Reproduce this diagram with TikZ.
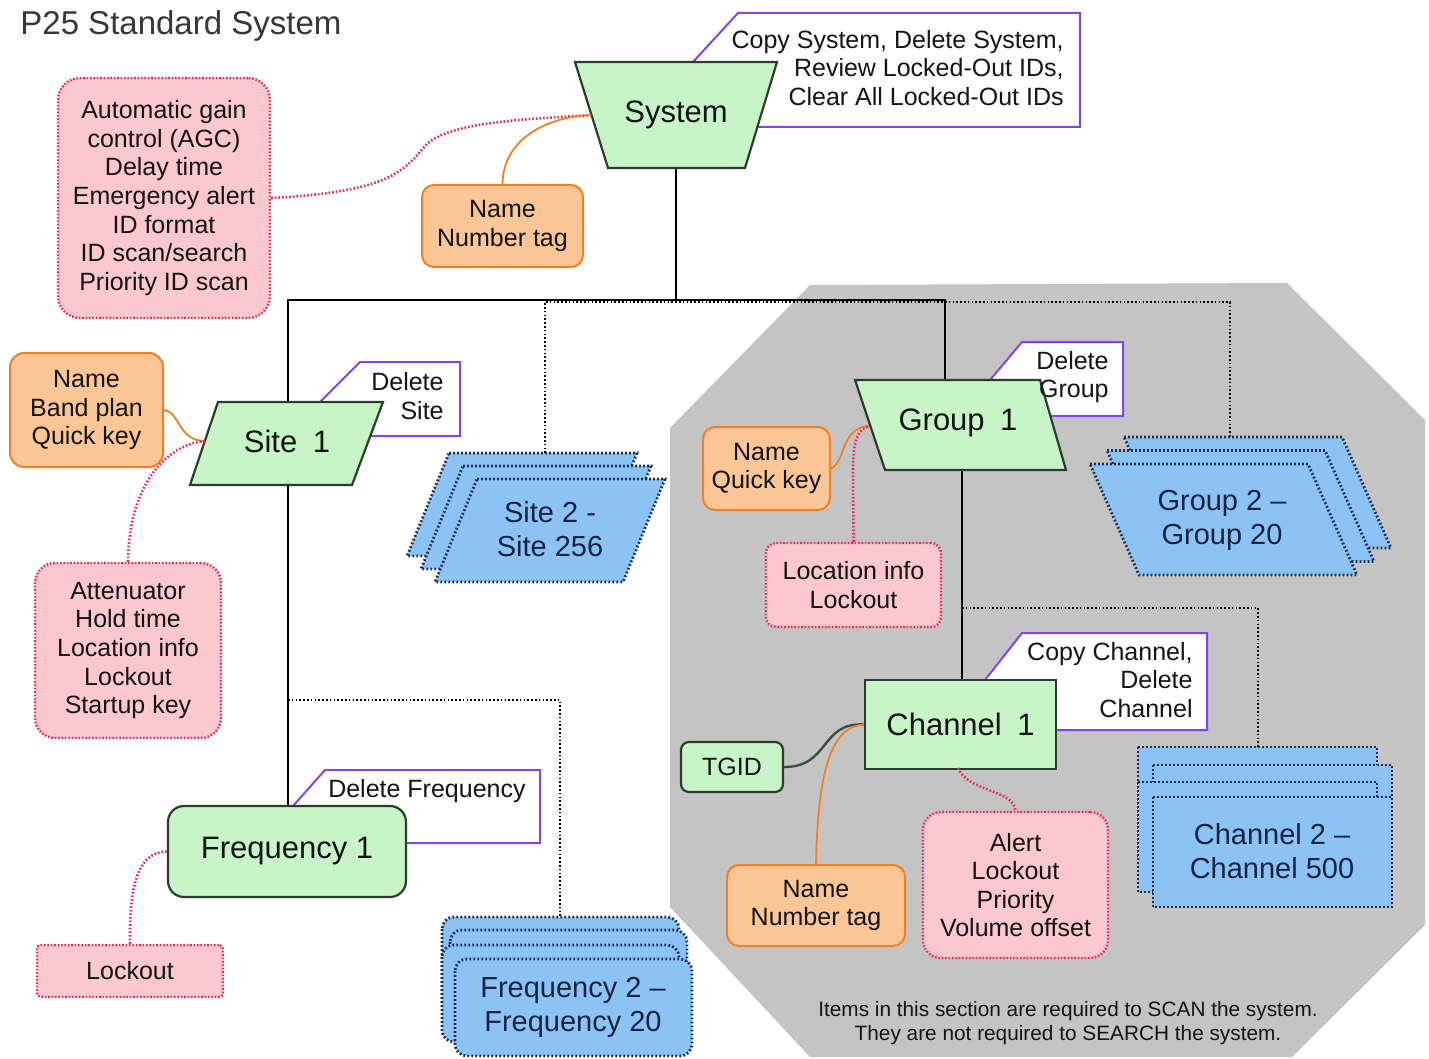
\documentclass[tikz,border=0pt]{standalone}
\usepackage{fontspec}
\setmainfont{Liberation Sans}
\definecolor{gfill}{RGB}{200,245,200}
\definecolor{gline}{RGB}{45,60,45}
\definecolor{ofill}{RGB}{250,198,150}
\definecolor{oline}{RGB}{240,128,40}
\definecolor{pfill}{RGB}{250,200,205}
\definecolor{pline}{RGB}{232,40,90}
\definecolor{bfill}{RGB}{140,195,245}
\definecolor{bline}{RGB}{30,45,80}
\definecolor{purp}{RGB}{130,70,230}
\definecolor{zone}{RGB}{196,196,196}
\definecolor{ink}{RGB}{20,20,20}
\definecolor{navy}{RGB}{25,35,65}
\definecolor{titlegray}{RGB}{55,55,55}
\definecolor{tgidline}{RGB}{60,80,60}
\tikzset{
  small/.style={font=\fontsize{12.5}{14.3}\selectfont, text=ink},
  bigtext/.style={font=\fontsize{15.5}{18}\selectfont, text=ink},
  bluetext/.style={font=\fontsize{14.5}{17}\selectfont, text=navy, align=center},
  dots/.style={line width=1.2pt, dash pattern=on 0.8pt off 0.9pt},
  pinkbox/.style={draw=pline, fill=pfill, dots, align=center, small, inner sep=0pt},
  orangebox/.style={draw=oline, fill=ofill, line width=1pt, rounded corners=6pt, align=center, small, inner sep=0pt},
  greenshape/.style={draw=gline, fill=gfill, line width=1.1pt},
  greenbox/.style={greenshape, bigtext, inner sep=0pt},
  bluestack/.style={draw=bline, fill=bfill, line width=1.4pt, dash pattern=on 0.9pt off 1.1pt},
  callout/.style={draw=purp, line width=1pt},
  callouttext/.style={small, align=right, anchor=east, inner sep=0pt},
  tree/.style={draw=black, line width=0.9pt},
  treedots/.style={draw=black, line width=1.3pt, dash pattern=on 0.8pt off 1.1pt},
  orangelink/.style={draw=oline, line width=0.9pt},
  pinklink/.style={draw=pline, line width=1.3pt, dash pattern=on 0.8pt off 1pt},
}
\begin{document}
\begin{tikzpicture}[x=0.5pt,y=-0.5pt]
\useasboundingbox (0,0) rectangle (1429,1059);
\fill[white] (0,0) rectangle (1429,1059);

% shaded region of scan-only items
\fill[zone] (810,285) -- (1287,283) -- (1425,420) -- (1425,925) -- (1292,1057)
  -- (810,1057) -- (670,907) -- (670,428) -- cycle;

\node[anchor=base west, inner sep=0pt, font=\fontsize{16.5}{20}\selectfont, text=titlegray] (title) at (20,35) {P25 Standard System};

% anchor points on the polygon shapes
\coordinate (sysB) at (676,168);
\coordinate (sysL) at (591,115);
\coordinate (site1T) at (288,402);
\coordinate (site1B) at (288,485);
\coordinate (site1L) at (205,441);
\coordinate (group1T) at (945,380);
\coordinate (group1B) at (962,470);
\coordinate (group1L) at (869,426);
\coordinate (hub) at (676,300);
\coordinate (lt) at (288,300);
\coordinate (rt) at (945,300);
\coordinate (site2top) at (545,453);
\coordinate (group2top) at (1230,437);
\coordinate (ch2top) at (1258,747);
\coordinate (fr2top) at (560,917);
\coordinate (frbranch) at (288,700);
\coordinate (chbranch) at (962,608);

% hierarchy lines
\draw[tree] (sysB) -- (hub);
\draw[tree] (site1T) -- (lt) -- (rt) -- (group1T);
\draw[treedots] (site2top) |- (1230,302) -- (group2top);
\draw[treedots] (frbranch) -| (fr2top);
\draw[treedots] (chbranch) -| (ch2top);

% callouts (drawn behind their shapes)
\fill[white] (693,62) -- (738,13) -- (1080,13) -- (1080,127) -- (757,127) -- cycle;
\draw[callout] (693,62) -- (738,13) -- (1080,13) -- (1080,127) -- (757,127);
\node[callouttext] (syscall) at (1064,68) {Copy System, Delete System,\\Review Locked-Out IDs,\\Clear All Locked-Out IDs};

\fill[white] (320,402) -- (360,362) -- (460,362) -- (460,436) -- (370,436) -- cycle;
\draw[callout] (320,402) -- (360,362) -- (460,362) -- (460,436) -- (370,436);
\node[callouttext] (sitecall) at (444,396) {Delete\\Site};

\fill[white] (990,380) -- (1022,342) -- (1123,342) -- (1123,416) -- (1050,416) -- cycle;
\draw[callout] (990,380) -- (1022,342) -- (1123,342) -- (1123,416) -- (1050,416);

\fill[white] (985,680) -- (1022,633) -- (1207,633) -- (1207,730) -- (1056,730) -- cycle;
\draw[callout] (985,680) -- (1022,633) -- (1207,633) -- (1207,730) -- (1056,730);
\node[callouttext] (chcall) at (1193,680) {Copy Channel,\\Delete\\Channel};

\fill[white] (293,806) -- (325,770) -- (540,770) -- (540,843) -- (406,843) -- cycle;
\draw[callout] (293,806) -- (325,770) -- (540,770) -- (540,843) -- (406,843);
\node[callouttext] (frcall) at (526,791) {Delete Frequency};

% System
\draw[greenshape] (575,62) -- (777,62) -- (745,168) -- (608,168) -- cycle;
\node[bigtext] (system) at (676,115) {System};

% Site 1
\draw[tree] (site1B) -- (288,806);
\draw[greenshape] (218,402) -- (383,402) -- (352,485) -- (190,485) -- cycle;
\node[bigtext] (site1) at (287,441) {Site\hspace{0.5em}1};

% Group 1 and its callout text
\draw[tree] (group1B) -- (962,680);
\draw[greenshape] (855,380) -- (1040,380) -- (1066,470) -- (885,470) -- cycle;
\node[bigtext] (group1) at (958,423) {Group\hspace{0.5em}1};
\node[callouttext] (groupcall) at (1109,377) {Delete\\Group};

% stacked ranges
\foreach \k in {2,1,0}
  \draw[bluestack, shift={(-14*\k,-13*\k)}] (477,479) -- (665,479) -- (623,582) -- (435,582) -- cycle;
\node[bluetext] (site2) at (550,529) {Site 2 -\\Site 256};

\foreach \k in {2,1,0}
  \draw[bluestack, shift={(17*\k,-13.5*\k)}] (1090,464) -- (1308,464) -- (1357,575) -- (1139,575) -- cycle;
\node[bluetext] (group2) at (1222,520) {Group 2 –\\Group 20};

\foreach \x/\y in {1138/747, 1153/765, 1138/782, 1153/797}
  \draw[bluestack] (\x,\y) rectangle ++(239,110);
\node[bluetext] (ch2) at (1272,851) {Channel 2 –\\Channel 500};

\foreach \x/\y in {442/917, 450/930, 442/945, 455/959}
  \draw[bluestack, rounded corners=6pt] (\x,\y) rectangle ++(237,97);
\node[bluetext] (fr2) at (573,1007) {Frequency 2 –\\Frequency 20};

% Channel 1, Frequency 1, TGID
\node[greenbox, minimum width=95.5pt, minimum height=44.5pt] (ch1) at (960.5,724.5) {Channel\hspace{0.5em}1};
\node[greenbox, rounded corners=8pt, minimum width=119pt, minimum height=45.5pt] (fr1) at (287,851.5) {Frequency 1};
\node[greenshape, small, rounded corners=4pt, inner sep=0pt, minimum width=51pt, minimum height=25pt] (tgid) at (732,767) {TGID};

% setting boxes
\node[pinkbox, rounded corners=11pt, minimum width=106pt, minimum height=120pt] (agc) at (164,198)
  {Automatic gain\\control (AGC)\\Delay time\\Emergency alert\\ID format\\ID scan/search\\Priority ID scan};
\node[orangebox, minimum width=80.5pt, minimum height=41pt] (sysname) at (502.5,226) {Name\\Number tag};
\node[orangebox, rounded corners=7pt, minimum width=76.5pt, minimum height=57pt] (sitename) at (86.5,410) {Name\\Band plan\\Quick key};
\node[pinkbox, rounded corners=10pt, minimum width=93pt, minimum height=87.5pt] (siteset) at (128,650.5)
  {Attenuator\\Hold time\\Location info\\Lockout\\Startup key};
\node[pinkbox, rounded corners=2pt, minimum width=93pt, minimum height=26pt] (frset) at (130,971) {Lockout};
\node[orangebox, minimum width=63.5pt, minimum height=41.5pt] (groupname) at (766.5,468.5) {Name\\Quick key};
\node[pinkbox, rounded corners=5pt, minimum width=87.5pt, minimum height=42pt] (groupset) at (853.5,585) {Location info\\Lockout};
\node[orangebox, minimum width=89pt, minimum height=40.5pt] (chname) at (816,905.5) {Name\\Number tag};
\node[pinkbox, rounded corners=9pt, minimum width=92.5pt, minimum height=73pt] (chset) at (1015.5,885)
  {Alert\\Lockout\\Priority\\Volume offset};

% links from setting boxes to their items
\draw[pinklink] (agc.east) .. controls (390,192) and (405,170) .. (425,146)
  .. controls (448,120) and (540,119) .. (sysL);
\draw[orangelink] (sysname.north) .. controls (503,140) and (545,117) .. (sysL);
\draw[orangelink] (sitename.east) .. controls (180,412) and (178,441) .. (site1L);
\draw[pinklink] (siteset.north) .. controls (129,480) and (170,444) .. (site1L);
\draw[pinklink] (frset.north) .. controls (129,880) and (140,852) .. (fr1.west);
\draw[orangelink] (groupname.east) .. controls (846,462) and (840,428) .. (group1L);
\draw[pinklink] (groupset.north) -- (853,470) .. controls (853,440) and (858,429) .. (group1L);
\draw[tgidline, line width=1.2pt] (tgid.east) .. controls (830,767) and (820,722) .. (ch1.west);
\draw[orangelink] (chname.north) .. controls (818,760) and (835,726) .. (ch1.west);
\draw[pinklink] (958,768) .. controls (968,792) and (1015,790) .. (chset.north);

% note for the shaded region
\node[font=\fontsize{10.4}{12}\selectfont, text=ink, align=center] (note) at (1068,1023)
  {Items in this section are required to SCAN the system.\\They are not required to SEARCH the system.};
\end{tikzpicture}
\end{document}
